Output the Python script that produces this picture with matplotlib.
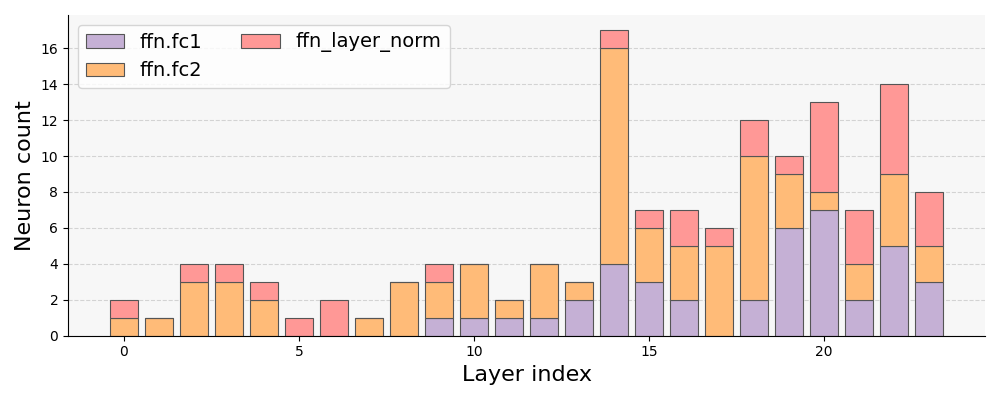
import numpy as np
import matplotlib
matplotlib.use('Agg')
import matplotlib.pyplot as plt

layers = np.arange(24)
fc1 = [0, 0, 0, 0, 0, 0, 0, 0, 0, 1, 1, 1, 1, 2, 4, 3, 2, 0, 2, 6, 7, 2, 5, 3]
fc2 = [1, 1, 3, 3, 2, 0, 0, 1, 3, 2, 3, 1, 3, 1, 12, 3, 3, 5, 8, 3, 1, 2, 4, 2]
norm = [1, 0, 1, 1, 1, 1, 2, 0, 0, 1, 0, 0, 0, 0, 1, 1, 2, 1, 2, 1, 5, 3, 5, 3]

fc1 = np.array(fc1)
fc2 = np.array(fc2)
norm = np.array(norm)

fig, ax = plt.subplots(figsize=(10, 4), dpi=100)
ax.set_facecolor('#f7f7f7')
ax.set_axisbelow(True)
ax.grid(axis='y', linestyle='--', color='#d3d3d3', linewidth=0.8)

ax.bar(layers, fc1, color='#c5b0d5', edgecolor='#555555', linewidth=0.8, label='ffn.fc1')
ax.bar(layers, fc2, bottom=fc1, color='#ffbb78', edgecolor='#555555', linewidth=0.8, label='ffn.fc2')
ax.bar(layers, norm, bottom=fc1 + fc2, color='#ff9896', edgecolor='#555555', linewidth=0.8, label='ffn_layer_norm')

ax.set_xlabel('Layer index', fontsize=16)
ax.set_ylabel('Neuron count', fontsize=16)
ax.set_yticks(range(0, 17, 2))
ax.spines['top'].set_visible(False)
ax.spines['right'].set_visible(False)
ax.legend(ncol=2, fontsize=14, loc='upper left')

plt.tight_layout()
plt.savefig('out.png')
